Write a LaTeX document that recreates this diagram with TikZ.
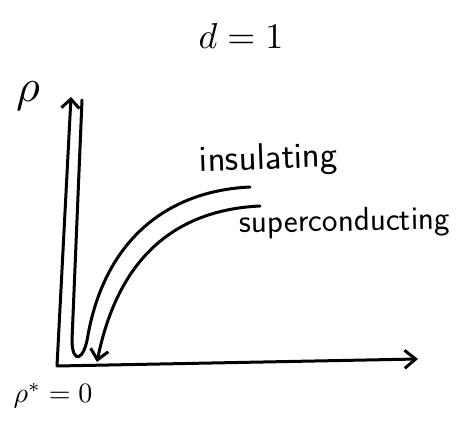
\documentclass[tikz,border=0pt]{standalone}
\usepackage{amsmath,amssymb}
\usepackage{tikz}
\usetikzlibrary{arrows.meta}
\tikzset{
  axisline/.style={line width=3pt, line cap=round, line join=round},
  flowline/.style={line width=3pt, line cap=round},
  barbtip/.style={-{Straight Barb[length=#1, width=18pt]}},
  barbtip/.default=9pt,
  handlabel/.style={font=\sffamily\fontsize{#1}{#1}\selectfont, inner sep=0pt, anchor=base},
  handlabel/.default=32,
  mathlabel/.style={inner sep=0pt, scale=#1}}

\begin{document}
\begin{tikzpicture}[x=1pt, y=-1pt]
  \useasboundingbox (0,0) rectangle (459,436);
  % axes
  \coordinate (O) at (57,366);
  \coordinate (ytop) at (71,97);
  \coordinate (xend) at (418,359);
  \draw[axisline, barbtip] (O) -- (ytop);
  \draw[axisline, barbtip=11pt] (O) -- (xend);
  % insulating flow: in from the right, U-turn near the origin, up to large rho
  \coordinate (ins0) at (250,187);
  \coordinate (insB) at (88,335);
  \coordinate (insU) at (72,340);
  \coordinate (ins1) at (82,100);
  \draw[flowline] (ins0) .. controls (165,191) and (105,242) .. (insB)
    .. controls (84,362) and (72,364) .. (insU) -- (ins1);
  % superconducting flow: down into rho = 0
  \coordinate (sc0) at (260,206);
  \coordinate (sc1) at (97,362);
  \draw[flowline, barbtip=10pt] (sc0) .. controls (175,210) and (118,258) .. (sc1);
  % labels
  \node[mathlabel=3.6] (dim) at (241,36) {$d = 1$};
  \node[mathlabel=4.6] (rho) at (28,96) {$\rho$};
  \node[mathlabel=2.8] (fp) at (53,396) {$\rho^{*} = 0$};
  \node[handlabel=37, rotate=2] (ins) at (269,169) {insulating};
  \node[handlabel=33, rotate=1] (sc) at (345,231) {superconducting};
\end{tikzpicture}
\end{document}
